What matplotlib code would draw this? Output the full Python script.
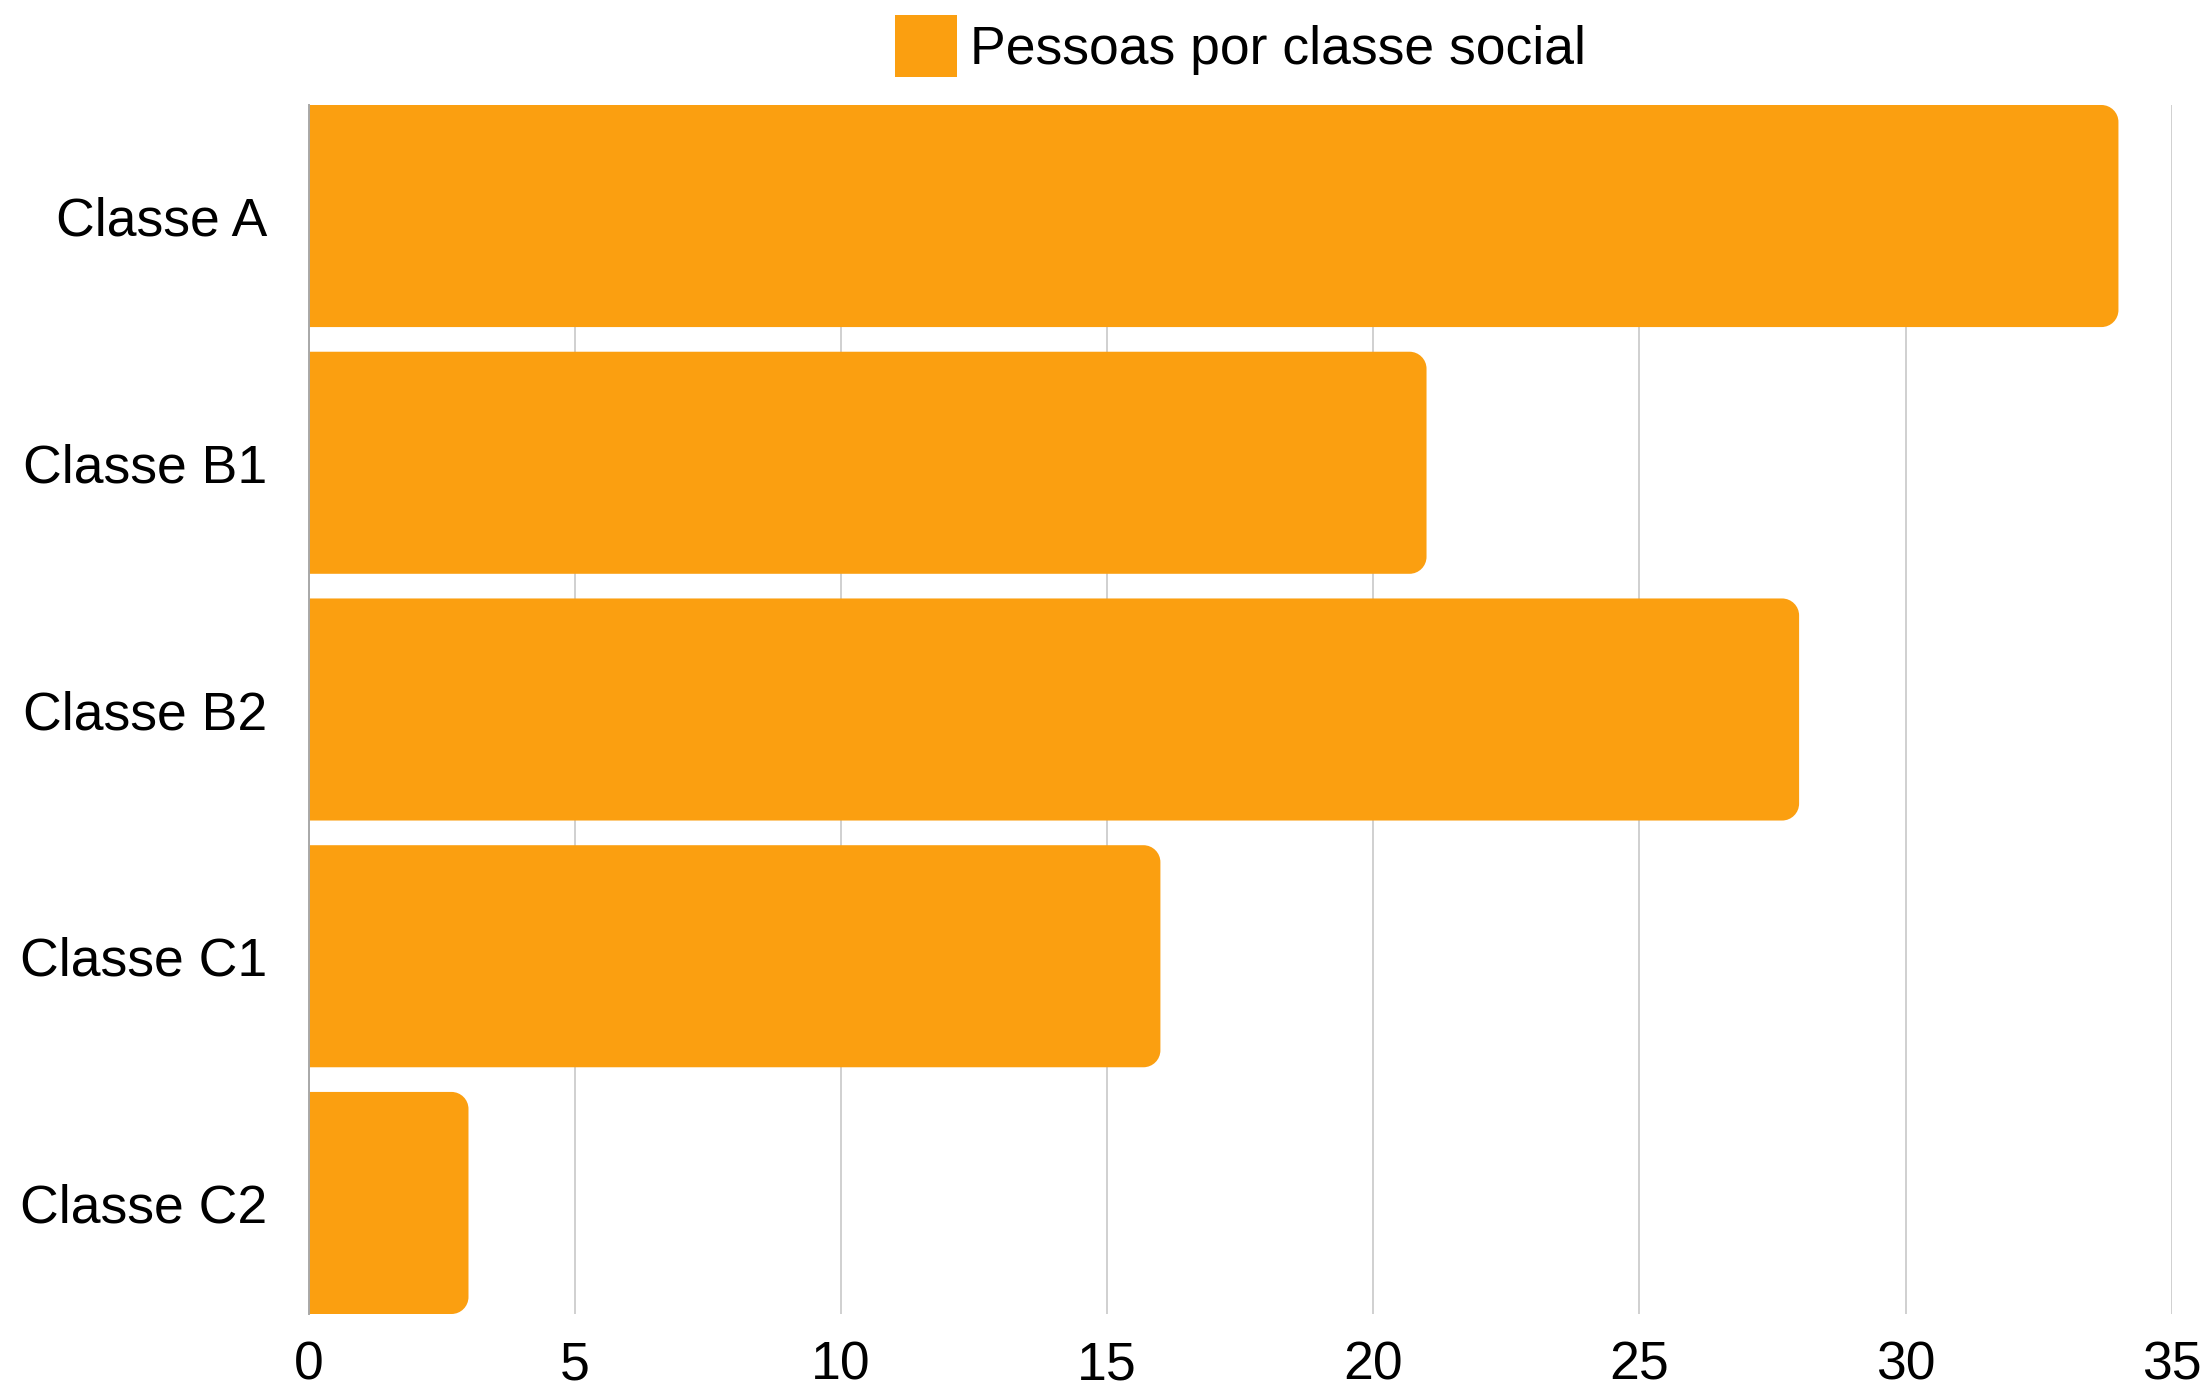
import matplotlib
matplotlib.use("Agg")
import matplotlib.pyplot as plt
from matplotlib.path import Path
from matplotlib.patches import PathPatch, Patch

# ---------------------------------------------------------------- data
CATEGORIES = ["Classe A", "Classe B1", "Classe B2", "Classe C1", "Classe C2"]
PESSOAS = [34, 21, 28, 16, 3]
SERIES_LABEL = "Pessoas por classe social"
X_TICKS = [0, 5, 10, 15, 20, 25, 30, 35]

BAR_COLOR = "#FB9F10"
GRID_COLOR = "#D0D0D0"
BAR_HEIGHT = 0.9
CORNER_PX = 17
FONT_SIZE = 38.5

plt.rcParams["font.family"] = ["Liberation Sans", "DejaVu Sans"]

fig = plt.figure(figsize=(22.09, 13.86), dpi=100)
ax = fig.add_axes([0.1398, 0.05195, 0.8433, 0.87229])

ax.set_xlim(0, 35)
ax.set_ylim(len(CATEGORIES) - 1 + BAR_HEIGHT / 2, -BAR_HEIGHT / 2)


def rounded_right_bar(ax, y, value, height, radius_px):
    # bar with square left end and rounded right corners (radius given in pixels)
    p0 = ax.transData.transform((0, 0))
    p1 = ax.transData.transform((1, 1))
    rx = radius_px / abs(p1[0] - p0[0])
    ry = radius_px / abs(p1[1] - p0[1])
    rx = min(rx, value / 2)
    k = 0.5523
    x0, x1 = 0, value
    y0, y1 = y - height / 2, y + height / 2
    verts = [
        (x0, y0),
        (x1 - rx, y0),
        (x1 - rx + k * rx, y0), (x1, y0 + ry - k * ry), (x1, y0 + ry),
        (x1, y1 - ry),
        (x1, y1 - ry + k * ry), (x1 - rx + k * rx, y1), (x1 - rx, y1),
        (x0, y1),
        (x0, y0),
    ]
    codes = [Path.MOVETO, Path.LINETO,
             Path.CURVE4, Path.CURVE4, Path.CURVE4,
             Path.LINETO,
             Path.CURVE4, Path.CURVE4, Path.CURVE4,
             Path.LINETO, Path.CLOSEPOLY]
    patch = PathPatch(Path(verts, codes), facecolor=BAR_COLOR, edgecolor="none",
                      zorder=3)
    ax.add_patch(patch)


for i, v in enumerate(PESSOAS):
    rounded_right_bar(ax, i, v, BAR_HEIGHT, CORNER_PX)

ax.set_xticks(X_TICKS)
ax.set_yticks(range(len(CATEGORIES)))
ax.set_yticklabels(CATEGORIES)
ax.tick_params(axis="x", length=0, pad=19, labelsize=FONT_SIZE)
ax.tick_params(axis="y", length=0, pad=30, labelsize=FONT_SIZE)

ax.grid(axis="x", color=GRID_COLOR, linewidth=1.4, zorder=0)
ax.set_axisbelow(True)
for side in ["top", "right", "bottom"]:
    ax.spines[side].set_visible(False)
ax.spines["left"].set_color("#A8A8A8")
ax.spines["left"].set_linewidth(1.4)
ax.spines["left"].set_zorder(4)

ax.legend(handles=[Patch(facecolor=BAR_COLOR, edgecolor="none", label=SERIES_LABEL)],
          loc="lower center", bbox_to_anchor=(0.5, 1.0), frameon=False,
          fontsize=FONT_SIZE, handlelength=1.16, handleheight=1.41,
          handletextpad=0.25, borderaxespad=0.12)

fig.savefig("out.png", dpi=100)
